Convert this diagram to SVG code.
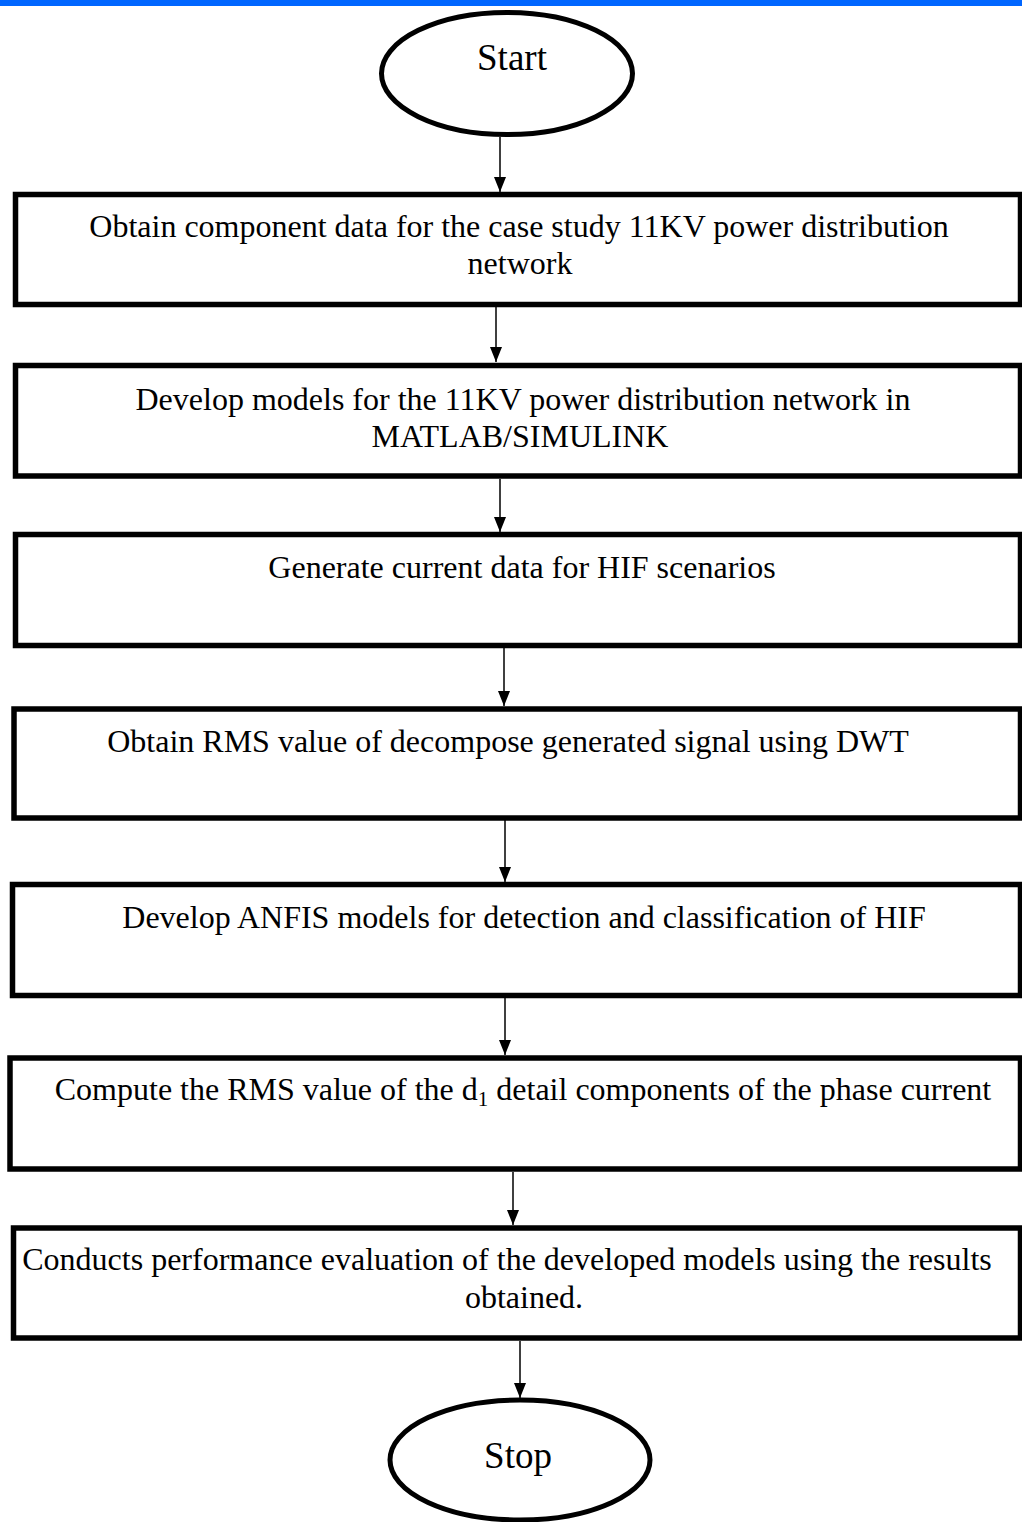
<svg xmlns="http://www.w3.org/2000/svg" width="1022" height="1522" viewBox="0 0 1022 1522">
<defs>
<style>
.box{fill:#fff;stroke:#000;stroke-width:5.5}
.term{fill:#fff;stroke:#000;stroke-width:5}
.t{font-family:"Liberation Serif","Times New Roman",serif;font-size:32px;fill:#000;text-anchor:middle}
.tt{font-family:"Liberation Serif","Times New Roman",serif;font-size:37px;fill:#000;text-anchor:middle}
.c{stroke:#000;stroke-width:1.5;fill:none;marker-end:url(#ah)}
</style>
<marker id="ah" markerWidth="15" markerHeight="12" refX="15" refY="6" orient="auto" markerUnits="userSpaceOnUse">
<path d="M0,0 L15,6 L0,12 Z" fill="#000"/>
</marker>
</defs>
<rect width="1022" height="1522" fill="#fff"/>
<rect x="0" y="0" width="1022" height="6" fill="#0066FF"/>
<g id="connectors">
<line class="c" x1="500" y1="137" x2="500" y2="192"/>
<line class="c" x1="496" y1="307" x2="496" y2="362"/>
<line class="c" x1="500" y1="479" x2="500" y2="532"/>
<line class="c" x1="504" y1="648" x2="504" y2="706"/>
<line class="c" x1="505" y1="820" x2="505" y2="882"/>
<line class="c" x1="505" y1="998" x2="505" y2="1055"/>
<line class="c" x1="513" y1="1172" x2="513" y2="1225"/>
<line class="c" x1="520" y1="1341" x2="520" y2="1398"/>
</g>
<g id="start">
<ellipse class="term" cx="507" cy="73.5" rx="125.5" ry="61"/>
<text class="tt" x="512" y="70">Start</text>
</g>
<g id="step1">
<rect class="box" x="15.5" y="194.5" width="1005" height="110"/>
<text class="t" x="519" y="237">Obtain component data for the case study 11KV power distribution</text>
<text class="t" x="520" y="274">network</text>
</g>
<g id="step2">
<rect class="box" x="15.5" y="365.5" width="1005" height="110.5"/>
<text class="t" x="523" y="410">Develop models for the 11KV power distribution network in</text>
<text class="t" x="520" y="447">MATLAB/SIMULINK</text>
</g>
<g id="step3">
<rect class="box" x="15.5" y="534.5" width="1005" height="111"/>
<text class="t" x="522" y="578">Generate current data for HIF scenarios</text>
</g>
<g id="step4">
<rect class="box" x="14" y="709" width="1006.5" height="109"/>
<text class="t" x="508" y="752">Obtain RMS value of decompose generated signal using DWT</text>
</g>
<g id="step5">
<rect class="box" x="12.5" y="884.5" width="1008" height="111"/>
<text class="t" x="524" y="928">Develop ANFIS models for detection and classification of HIF</text>
</g>
<g id="step6">
<rect class="box" x="10" y="1058" width="1010.5" height="111"/>
<text class="t" x="523" y="1100">Compute the RMS value of the d<tspan font-size="21" dy="6">1</tspan><tspan dy="-6"> detail components of the phase current</tspan></text>
</g>
<g id="step7">
<rect class="box" x="13.5" y="1228" width="1007" height="110"/>
<text class="t" x="507" y="1270">Conducts performance evaluation of the developed models using the results</text>
<text class="t" x="524" y="1308">obtained.</text>
</g>
<g id="stop">
<ellipse class="term" cx="520" cy="1460" rx="130" ry="60"/>
<text class="tt" x="518" y="1468">Stop</text>
</g>
</svg>
